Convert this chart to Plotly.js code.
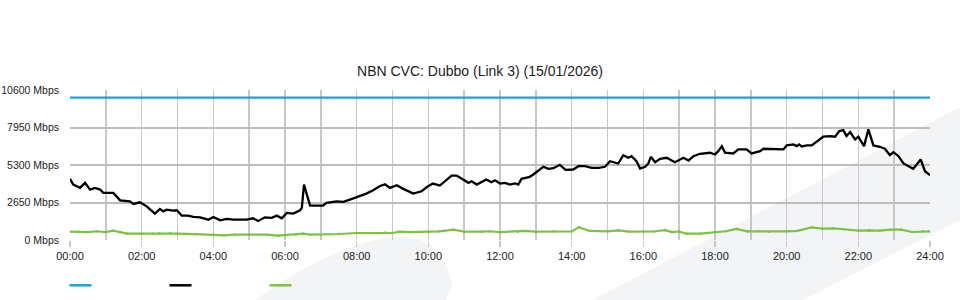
<!DOCTYPE html>
<html>
<head>
<meta charset="utf-8">
<script src="https://cdn.plot.ly/plotly-3.0.1.min.js"></script>
<style>html,body{margin:0;padding:0;background:#fff;}#chart{width:960px;height:300px;}</style>
</head>
<body>
<div id="chart"></div>
<script>
// ---- data (hours since midnight, Mbps) ----
var chartTitle = "NBN CVC: Dubbo (Link 3) (15/01/2026)";
var xTickVals = [0,2,4,6,8,10,12,14,16,18,20,22,24];
var xTickText = ["00:00","02:00","04:00","06:00","08:00","10:00","12:00","14:00","16:00","18:00","20:00","22:00","24:00"];
var yTickVals = [0,2650,5300,7950,10600];
var yTickText = ["0 Mbps","2650 Mbps","5300 Mbps","7950 Mbps","10600 Mbps"];

var capTimes = [0, 24];
var capValues = [10060, 10060];

var aggTimes = [0.00,0.09,0.28,0.42,0.56,0.70,0.84,0.93,1.21,1.40,1.67,1.77,1.95,2.14,2.37,2.51,2.60,2.70,2.88,2.98,
  3.12,3.30,3.44,3.63,3.86,4.00,4.19,4.37,4.56,4.74,4.93,5.11,5.25,5.44,5.63,5.77,5.91,6.05,6.23,6.42,6.47,6.53,6.70,
  7.06,7.16,7.44,7.63,7.81,8.04,8.27,8.46,8.64,8.79,8.93,9.12,9.30,9.58,9.81,9.99,10.13,10.32,10.46,10.65,10.79,10.98,
  11.12,11.21,11.35,11.62,11.76,11.86,12.00,12.14,12.28,12.42,12.51,12.60,12.74,12.83,12.93,13.11,13.21,13.35,13.49,13.67,
  13.83,14.04,14.19,14.37,14.56,14.75,14.93,15.07,15.30,15.44,15.58,15.67,15.81,15.91,16.05,16.14,16.21,16.33,16.47,16.65,
  16.88,17.12,17.26,17.40,17.58,17.86,18.00,18.09,18.19,18.28,18.51,18.65,18.88,19.02,19.26,19.35,19.63,19.91,20.00,20.19,
  20.28,20.35,20.42,20.56,20.70,20.88,21.02,21.21,21.35,21.47,21.58,21.67,21.77,21.91,22.00,22.16,22.28,22.42,22.60,22.74,
  22.88,22.98,23.12,23.26,23.40,23.53,23.63,23.74,23.86,24.00];
var aggValues = [4322,3918,3685,4039,3564,3685,3564,3330,3330,2806,2735,2551,2665,2381,1864,2197,2027,2147,2076,2100,
  1722,1722,1630,1600,1438,1630,1389,1488,1438,1460,1438,1531,1346,1601,1560,1722,1531,1913,1864,2098,2268,3918,2431,
  2431,2622,2735,2700,2856,3047,3281,3515,3798,3940,3685,3869,3614,3281,3444,3798,3989,3850,4152,4556,4556,4273,
  4039,4152,3918,4273,4081,4223,3989,4040,3918,4000,3918,4322,4393,4464,4627,4981,5173,5031,5074,5314,
  4960,4981,5215,5215,5102,5102,5173,5570,5407,5995,5810,5924,5570,5052,5173,5407,5881,5499,5740,5810,
  5499,5810,5619,5924,6094,6165,6044,6278,6633,6165,6115,6399,6399,6115,6278,6448,6399,6399,6682,6753,
  6633,6753,6600,6682,6682,7058,7299,7341,7299,7696,7767,7341,7625,7107,7299,6633,7816,6682,6590,6448,
  5995,6207,5924,5407,5215,5031,5336,5690,4861,4578];

var othTimes = [0,0.25,0.5,0.75,1.0,1.2,1.4,1.6,2.0,2.3,2.5,2.8,3.0,3.5,4.0,4.3,4.6,5.0,5.5,5.8,6.0,6.3,6.5,6.7,7.0,7.5,
  8.0,8.5,8.8,9.0,9.2,9.5,10.0,10.3,10.7,11.0,11.5,11.7,12.0,12.5,12.7,13.0,13.5,14.0,14.2,14.5,15.0,15.3,15.6,16.0,16.3,
  16.6,16.8,17.0,17.2,17.6,18.0,18.3,18.6,18.9,19.2,19.5,20.0,20.3,20.7,21.0,21.3,21.6,22.0,22.3,22.6,22.9,23.2,23.5,23.8,24.0];
var othValues = [588,588,560,620,560,659,560,446,446,446,470,496,446,420,375,330,375,375,375,304,340,375,446,375,375,425,
  496,496,538,496,590,560,588,610,730,588,588,620,560,588,640,588,610,610,900,640,610,680,590,600,600,
  700,560,600,446,446,560,620,780,610,610,590,610,640,893,800,822,760,659,680,660,730,730,567,610,610];

// ---- layout helpers (pixel -> paper for decorations) ----
var L = 70, R = 930, T = 90, B = 240;
function px(x){ return (x - L) / (R - L); }
function py(y){ return (B - y) / (B - T); }
function pathOf(cmds){
  return cmds.map(function(c){
    if (c.length === 1) return c[0];
    var s = c[0];
    for (var i = 1; i < c.length; i += 2) s += ' ' + px(c[i]).toFixed(4) + ',' + py(c[i+1]).toFixed(4);
    return s;
  }).join(' ');
}

var wm = '#f3f4f6';
var shapes = [
  {type:'path', xref:'paper', yref:'paper', layer:'below', line:{width:0}, fillcolor:wm,
   path: pathOf([['M',255,300],['C',300,268,355,238,400,237],['C',432,237,446,255,452,286],['L',446,300],['Z']])},
  {type:'path', xref:'paper', yref:'paper', layer:'below', line:{width:0}, fillcolor:wm,
   path: pathOf([['M',593,300],['L',960,107],['L',960,220],['L',803,300],['Z']])},
  {type:'line', xref:'paper', yref:'paper', x0:px(69.5), x1:px(91.5), y0:py(285.3), y1:py(285.3), line:{color:'#1ba1e2', width:2.5}},
  {type:'line', xref:'paper', yref:'paper', x0:px(169.5), x1:px(191.5), y0:py(285.3), y1:py(285.3), line:{color:'#000000', width:2.5}},
  {type:'line', xref:'paper', yref:'paper', x0:px(269.5), x1:px(291.5), y0:py(285.3), y1:py(285.3), line:{color:'#7dc242', width:2.5}}
];

var traces = [
  {x: capTimes, y: capValues, type:'scatter', mode:'lines', name:'Capacity', line:{color:'#1ba1e2', width:2.2}, hoverinfo:'skip'},
  {x: othTimes, y: othValues, type:'scatter', mode:'lines+markers', name:'Other', line:{color:'#7dc242', width:2.2}, marker:{size:2.5, color:'#7dc242'}, hoverinfo:'skip'},
  {x: aggTimes, y: aggValues, type:'scatter', mode:'lines', name:'Aggregate', line:{color:'#000000', width:2.3}, hoverinfo:'skip'}
];

var layout = {
  width: 960, height: 300,
  margin: {l: L, r: 960 - R, t: T, b: 300 - B, pad: 0},
  paper_bgcolor: '#ffffff',
  plot_bgcolor: 'rgba(0,0,0,0)',
  showlegend: false,
  font: {family: '"Liberation Sans", Arial, sans-serif', color: '#222', size: 11},
  title: {text: chartTitle, x: 0.5, xanchor: 'center', xref: 'container', y: 1 - 71/300, yanchor: 'middle', yref: 'container',
          font: {family: '"Liberation Sans", Arial, sans-serif', size: 14, color: '#222'}},
  xaxis: {
    range: [0, 24], tickmode: 'array', tickvals: xTickVals, ticktext: xTickText,
    showgrid: true, gridcolor: '#c8c8c8', gridwidth: 1.4,
    ticks: 'outside', ticklen: 6, tickwidth: 1.4, tickcolor: '#c8c8c8',
    minor: {dtick: 1, tick0: 0, showgrid: true, gridcolor: '#c8c8c8', gridwidth: 1.4, ticks: ''},
    zeroline: false, showline: false, fixedrange: true,
    tickfont: {size: 11, color: '#222'}
  },
  yaxis: {
    range: [0, 10600], tickmode: 'array', tickvals: yTickVals, ticktext: yTickText,
    showgrid: true, gridcolor: '#bdbdbd', gridwidth: 2,
    ticks: '', ticklabelstandoff: 10,
    zeroline: false, showline: false, fixedrange: true,
    tickfont: {size: 10.5, color: '#222'}
  },
  shapes: shapes
};

Plotly.newPlot('chart', traces, layout, {staticPlot: true, displayModeBar: false});
</script>
</body>
</html>
